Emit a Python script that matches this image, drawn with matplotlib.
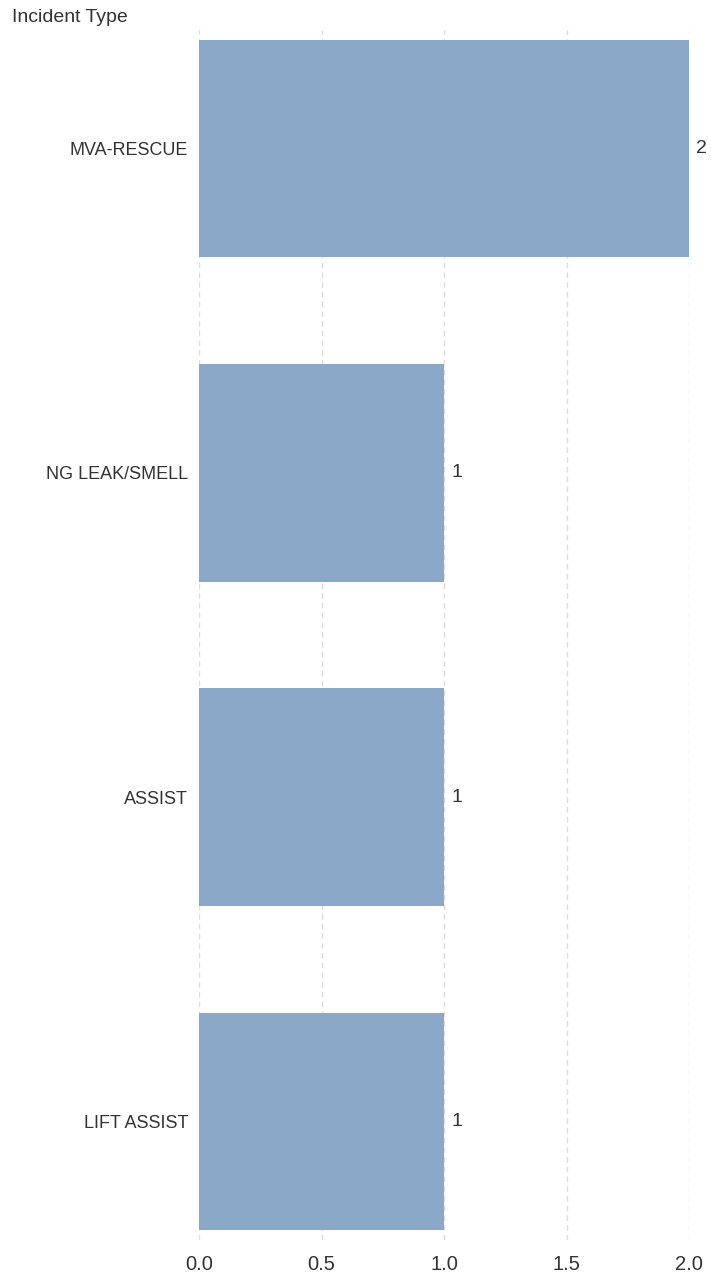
import matplotlib.pyplot as plt

categories = ['MVA-RESCUE', 'NG LEAK/SMELL', 'ASSIST', 'LIFT ASSIST']
counts = [2, 1, 1, 1]
x_ticks = [0.0, 0.5, 1.0, 1.5, 2.0]

plt.rcParams['font.family'] = ['Liberation Sans', 'DejaVu Sans']

fig = plt.figure(figsize=(7.11, 12.83), dpi=100)
ax = fig.add_axes([199 / 711, 43 / 1283, 490 / 711, 1210 / 1283])

pos = list(range(len(categories)))
ax.barh(pos, counts, height=0.67, color='#8ca8c9', zorder=2)

for y, v in zip(pos, counts):
    ax.text(v + 0.03, y, str(v), va='center', ha='left', fontsize=14,
            color='#333333', clip_on=False)

ax.set_xlim(0, 2.0)
ax.set_ylim(len(categories) - 1 + 0.367, -0.367)
ax.set_xticks(x_ticks)
ax.set_xticklabels([f'{t:.1f}' for t in x_ticks])
ax.set_yticks(pos)
ax.set_yticklabels(categories)
ax.tick_params(axis='x', length=0, pad=11, labelsize=14.5, labelcolor='#333333')
ax.tick_params(axis='y', length=0, pad=8, labelsize=13, labelcolor='#333333')

ax.grid(axis='x', linestyle=(0, (4, 3)), color='#dddddd', linewidth=1, zorder=0)
for s in ax.spines.values():
    s.set_visible(False)

fig.text(12 / 711, 1 - 18 / 1283, 'Incident Type', fontsize=14, color='#333333',
         va='center', ha='left')

fig.savefig('out.png', dpi=100)
